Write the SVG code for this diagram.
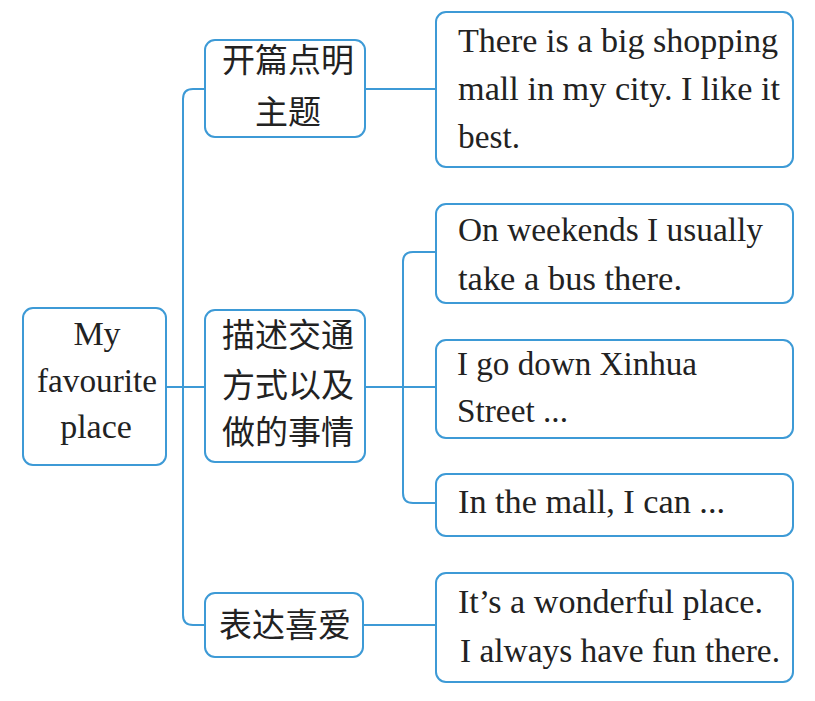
<svg xmlns="http://www.w3.org/2000/svg" width="815" height="701" viewBox="0 0 815 701">
<style>
.box{fill:#ffffff;stroke:#3d9ad6;stroke-width:2}
.ln{fill:none;stroke:#3d9ad6;stroke-width:2}
.en{font-family:"Liberation Serif","Times New Roman",serif;font-size:34px;fill:#222}
.zh{font-family:"Noto Sans CJK SC","Noto Sans",sans-serif;font-size:33px;fill:#222}
</style>
<rect width="815" height="701" fill="#ffffff"/>
<g id="connectors">
<path class="ln" d="M166,387 H205"/>
<path class="ln" d="M205,89 H193 Q183,89 183,99 V615 Q183,625 193,625 H205"/>
<path class="ln" d="M365,89 H436"/>
<path class="ln" d="M363,625 H436"/>
<path class="ln" d="M365,387 H436"/>
<path class="ln" d="M436,252 H413 Q403,252 403,262 V493 Q403,503 413,503 H436"/>
</g>
<g id="root">
<rect class="box" x="23" y="308" width="143" height="157" rx="10"/>
<text class="en" x="97" y="345" text-anchor="middle">My</text>
<text class="en" x="97" y="392" text-anchor="middle" textLength="120" lengthAdjust="spacingAndGlyphs">favourite</text>
<text class="en" x="96" y="438" text-anchor="middle">place</text>
</g>
<g id="n1">
<rect class="box" x="205" y="40" width="160" height="97" rx="10"/>
<text class="zh" x="288" y="72" text-anchor="middle">开篇点明</text>
<text class="zh" x="288" y="124" text-anchor="middle">主题</text>
</g>
<g id="n2">
<rect class="box" x="205" y="310" width="160" height="152" rx="10"/>
<text class="zh" x="288" y="347" text-anchor="middle">描述交通</text>
<text class="zh" x="288" y="397" text-anchor="middle">方式以及</text>
<text class="zh" x="288" y="444" text-anchor="middle">做的事情</text>
</g>
<g id="n3">
<rect class="box" x="205" y="593" width="158" height="64" rx="10"/>
<text class="zh" x="285" y="637" text-anchor="middle">表达喜爱</text>
</g>
<g id="d1">
<rect class="box" x="436" y="12" width="357" height="155" rx="10"/>
<text class="en" x="458" y="52" textLength="320" lengthAdjust="spacingAndGlyphs">There is a big shopping</text>
<text class="en" x="458" y="100" textLength="322" lengthAdjust="spacingAndGlyphs">mall in my city. I like it</text>
<text class="en" x="458" y="148" textLength="62" lengthAdjust="spacingAndGlyphs">best.</text>
</g>
<g id="d2">
<rect class="box" x="436" y="204" width="357" height="99" rx="10"/>
<text class="en" x="458" y="241" textLength="305" lengthAdjust="spacingAndGlyphs">On weekends I usually</text>
<text class="en" x="458" y="290" textLength="224" lengthAdjust="spacingAndGlyphs">take a bus there.</text>
</g>
<g id="d3">
<rect class="box" x="436" y="340" width="357" height="98" rx="10"/>
<text class="en" x="457" y="375" textLength="240" lengthAdjust="spacingAndGlyphs">I go down Xinhua</text>
<text class="en" x="457" y="422" textLength="111" lengthAdjust="spacingAndGlyphs">Street ...</text>
</g>
<g id="d4">
<rect class="box" x="436" y="474" width="357" height="62" rx="10"/>
<text class="en" x="458" y="513" textLength="267" lengthAdjust="spacingAndGlyphs">In the mall, I can ...</text>
</g>
<g id="d5">
<rect class="box" x="436" y="573" width="357" height="109" rx="10"/>
<text class="en" x="458" y="613" textLength="305" lengthAdjust="spacingAndGlyphs">It’s a wonderful  place.</text>
<text class="en" x="460" y="662" textLength="320" lengthAdjust="spacingAndGlyphs">I always have fun there.</text>
</g>
</svg>
